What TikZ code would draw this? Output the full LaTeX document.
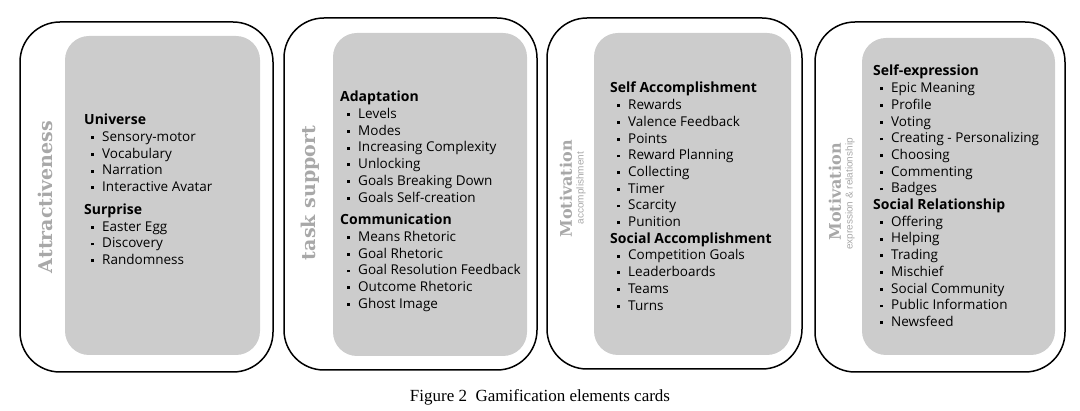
\documentclass[tikz,border=0pt]{standalone}
\usepackage{fontspec}
\setmainfont{Open Sans}
\newfontfamily\slabfont{DejaVu Serif}
\newfontfamily\capfont{Liberation Serif}
\newfontfamily\thinfont{Liberation Sans}
\usetikzlibrary{positioning}
\definecolor{panelgrey}{RGB}{204,204,204}
\definecolor{titlegrey}{RGB}{168,168,168}
\newcommand{\itm}{\makebox[18pt][l]{\hspace*{7pt}\rule[2.4pt]{2.8pt}{2.8pt}}}
\newcommand{\hd}[1]{{\fontsize{14}{16.7}\selectfont\bfseries #1}}
\tikzset{
  card/.style={draw=black, line width=1.5pt, rounded corners=40pt},
  panel/.style={fill=panelgrey, rounded corners=24pt},
  itemlist/.style={anchor=north west, align=left, inner sep=0pt,
    font=\fontsize{13.5}{16.7}\selectfont},
  cardtitle/.style={rotate=90, inner sep=0pt, text=titlegrey,
    font=\slabfont\bfseries\fontsize{19}{20}\selectfont},
  subtitle/.style={rotate=90, inner sep=0pt, text=titlegrey,
    font=\thinfont\fontsize{10}{11}\selectfont},
}

\begin{document}
\begin{tikzpicture}[x=1pt, y=-1pt]
    \useasboundingbox (0,0) rectangle (1080,411);
    % Draw the four cards and their grey panels.
    \draw[card] (20,22) rectangle (273,372);
    \fill[panel] (65,36) rectangle (260,355);
    \draw[card] (284,18) rectangle (537,370);
    \fill[panel] (333,33) rectangle (527,356);
    \draw[card] (547,18) rectangle (802,369);
    \fill[panel] (594,33) rectangle (791,355);
    \draw[card] (815,22) rectangle (1065,372);
    \fill[panel] (862,38) rectangle (1055,355);

    % Titles along the left side of each card.
    \node[cardtitle] (attr) at (45,197) {Attractiveness};
    \node[cardtitle] (task) at (310,193) {task support};
    \node[cardtitle, font=\slabfont\bfseries\fontsize{16}{18}\selectfont]
      (motiv1) at (566,189) {Motivation};
    \node[subtitle] (accomp) at (581,188) {accomplishment};
    \node[cardtitle, font=\slabfont\bfseries\fontsize{16}{18}\selectfont]
      (motiv2) at (835,192) {Motivation};
    \node[subtitle] (express) at (850,194) {expression \& relationship};

    % The element lists.
    \node[itemlist] (attrlist) at (84,114) {\hd{Universe}\\
      \itm Sensory-motor\\ \itm Vocabulary\\ \itm Narration\\
      \itm Interactive Avatar\\[6pt]
      \hd{Surprise}\\
      \itm Easter Egg\\ \itm Discovery\\ \itm Randomness};
    \node[itemlist] (tasklist) at (340,91) {\hd{Adaptation}\\
      \itm Levels\\ \itm Modes\\ \itm Increasing Complexity\\
      \itm Unlocking\\ \itm Goals Breaking Down\\
      \itm Goals Self-creation\\[6pt]
      \hd{Communication}\\
      \itm Means Rhetoric\\ \itm Goal Rhetoric\\
      \itm Goal Resolution Feedback\\ \itm Outcome Rhetoric\\
      \itm Ghost Image};
    \node[itemlist] (accomplist) at (610,82) {\hd{Self Accomplishment}\\
      \itm Rewards\\ \itm Valence Feedback\\ \itm Points\\
      \itm Reward Planning\\ \itm Collecting\\ \itm Timer\\
      \itm Scarcity\\ \itm Punition\\
      \hd{Social Accomplishment}\\
      \itm Competition Goals\\ \itm Leaderboards\\ \itm Teams\\
      \itm Turns};
    \node[itemlist] (expresslist) at (873,65) {\hd{Self-expression}\\
      \itm Epic Meaning\\ \itm Profile\\ \itm Voting\\
      \itm Creating - Personalizing\\ \itm Choosing\\
      \itm Commenting\\ \itm Badges\\
      \hd{Social Relationship}\\
      \itm Offering\\ \itm Helping\\ \itm Trading\\ \itm Mischief\\
      \itm Social Community\\ \itm Public Information\\
      \itm Newsfeed};

    % Caption.
    \node[font=\capfont\fontsize{17}{19}\selectfont] (caption) at (540,397)
      {Figure 2\ \ Gamification elements cards};
\end{tikzpicture}
\end{document}
